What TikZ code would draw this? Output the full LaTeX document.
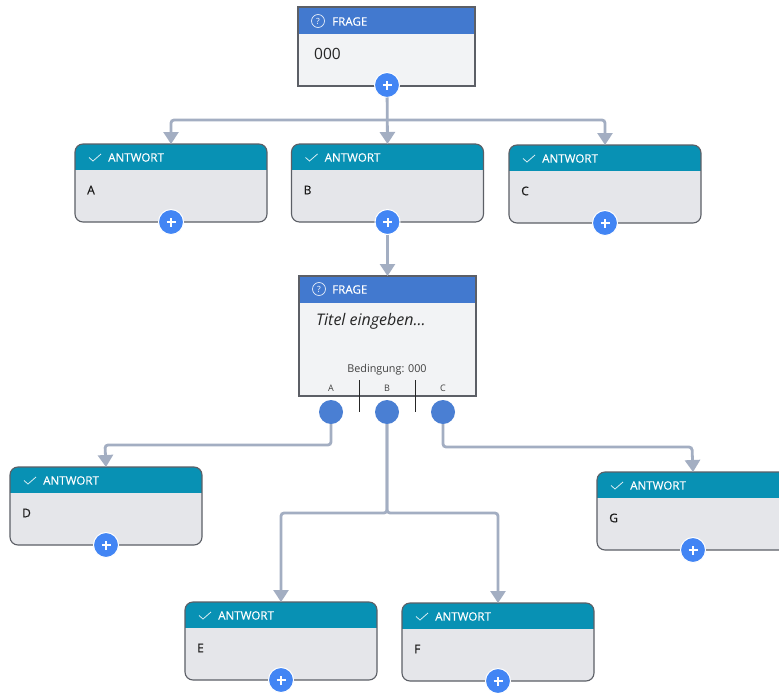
\documentclass[tikz,border=0pt]{standalone}
\usepackage{fontspec}
\setmainfont{Open Sans}
\newfontfamily\heavyfont[FakeBold=0.35]{Open Sans}
\usetikzlibrary{arrows.meta}
\definecolor{hdrblue}{HTML}{4279CF}
\definecolor{hdrteal}{HTML}{0891B4}
\definecolor{bodyq}{HTML}{F2F3F5}
\definecolor{bodya}{HTML}{E5E6EA}
\definecolor{plusblue}{HTML}{4285F4}
\definecolor{dotblue}{HTML}{4A7FD3}
\definecolor{connc}{HTML}{A3AEC2}
\definecolor{edgec}{HTML}{5C5F66}
\tikzset{
  x=1pt,y=-1pt,
  answerbox/.style={draw=edgec,line width=1.1pt,rounded corners=8pt,fill=bodya,minimum width=192pt,minimum height=78pt,inner sep=0pt,outer sep=0pt,anchor=north west,
    path picture={\fill[hdrteal,sharp corners] (path picture bounding box.north west) rectangle ([yshift=-26pt]path picture bounding box.north east);}},
  questionbox/.style={draw=edgec,line width=1.4pt,fill=bodyq,minimum width=177pt,inner sep=0pt,outer sep=0pt,anchor=north west,
    path picture={\fill[hdrblue] (path picture bounding box.north west) rectangle ([yshift=-27pt]path picture bounding box.north east);}},
  hdrtext/.style={text=white,font=\heavyfont\fontsize{11.6}{13}\selectfont,inner sep=0pt,anchor=west},
  bodytext/.style={text=black!85,font=\fontsize{15.5}{18}\selectfont,inner sep=0pt,anchor=west},
  labeltext/.style={text=black!90,font=\heavyfont\fontsize{12}{14}\selectfont,inner sep=0pt,anchor=west},
  smalltext/.style={text=black!75,font=\fontsize{10.8}{12}\selectfont,inner sep=0pt},
  tinytext/.style={text=black!75,font=\fontsize{9}{10}\selectfont,inner sep=0pt},
  qicon/.style={circle,draw=white!85!hdrblue,line width=0.7pt,minimum size=13pt,inner sep=0pt,text=white,font=\fontsize{8.5}{9}\selectfont},
  plusbtn/.style={circle,draw=white,line width=1pt,fill=plusblue,minimum size=25pt,inner sep=0pt,outer sep=0pt,
    path picture={\draw[white,line width=2pt] ([xshift=-4.5pt]path picture bounding box.center) -- ([xshift=4.5pt]path picture bounding box.center);
      \draw[white,line width=2pt] ([yshift=-4.5pt]path picture bounding box.center) -- ([yshift=4.5pt]path picture bounding box.center);}},
  outdot/.style={circle,fill=dotblue,minimum size=24pt,inner sep=0pt,outer sep=0pt},
  conn/.style={draw=connc,line width=2.8pt,rounded corners=3pt,-{Triangle[length=12pt,width=15pt,fill=connc]}},
  divider/.style={draw=black!85,line width=1pt},
  tick/.style={draw=white!85!hdrteal,line width=0.8pt}
}
\newcommand{\answerblock}[4]{%
  \node[answerbox] (#1) at (#2,#3) {};
  \node[hdrtext] (#1h) at ([xshift=33pt,yshift=-13.5pt]#1.north west) {ANTWORT};
  \node[labeltext] (#1t) at ([xshift=12pt,yshift=-46pt]#1.north west) {#4};
  \draw[tick] ([xshift=14pt,yshift=-13.5pt]#1.north west) -- ([xshift=18pt,yshift=-17pt]#1.north west) -- ([xshift=26pt,yshift=-10pt]#1.north west);
  \node[plusbtn] (#1p) at (#1.south) {};
}
\begin{document}
\begin{tikzpicture}
\useasboundingbox (0,0) rectangle (779,693);
\clip (0,0) rectangle (779,693);
\fill[white] (0,0) rectangle (779,693);
% question 1
\node[questionbox,minimum height=79pt] (q1) at (298,7) {};
\node[qicon] (q1i) at (318,21) {?};
\node[hdrtext] (q1h) at (332,21.5) {FRAGE};
\node[bodytext] (q1t) at (314,54) {000};
\node[plusbtn] (q1p) at (387,85) {};
% answers
\answerblock{a}{75}{144}{A}
\answerblock{b}{291.5}{144}{B}
\answerblock{c}{509}{145}{C}
\answerblock{d}{10}{467}{D}
\answerblock{e}{185}{602}{E}
\answerblock{f}{402}{603}{F}
\answerblock{g}{597}{472}{G}
% question 2
\node[questionbox,minimum height=120pt] (q2) at (299,276) {};
\node[qicon] (q2i) at (319,289) {?};
\node[hdrtext] (q2h) at (332,289.5) {FRAGE};
\node[bodytext,font=\fontsize{16}{18}\selectfont\itshape] (q2t) at (316,321.5) {Titel eingeben...};
\node[smalltext] (q2c) at (387,369.5) {Bedingung: 000};
\node[tinytext] (q2a) at (331,388) {A};
\node[tinytext] (q2b) at (387,388) {B};
\node[tinytext] (q2d) at (443,388) {C};
\coordinate (d1a) at (359,380);
\coordinate (d1b) at (359,412);
\coordinate (d2a) at (415,380);
\coordinate (d2b) at (415,412);
\draw[divider] (d1a) -- (d1b);
\draw[divider] (d2a) -- (d2b);
\node[outdot] (oa) at (331,412) {};
\node[outdot] (ob) at (387,412) {};
\node[outdot] (oc) at (443,412) {};
% connectors
\coordinate (j1) at (387,120);
\coordinate (j2) at (387,513);
\draw[conn] (q1p) -- (b.north);
\draw[conn] (j1) -| (a.north);
\draw[conn] (j1) -| (c.north);
\draw[conn] (bp) -- (q2.north);
\draw[conn] (oa.south) |- (105,445) -- (d.north);
\draw[conn] (ob.south) -- (j2) -| (e.north);
\draw[conn] (ob.south) -- (j2) -| (f.north);
\draw[conn] (oc.south) |- (692,447) -- (g.north);
\end{tikzpicture}
\end{document}
